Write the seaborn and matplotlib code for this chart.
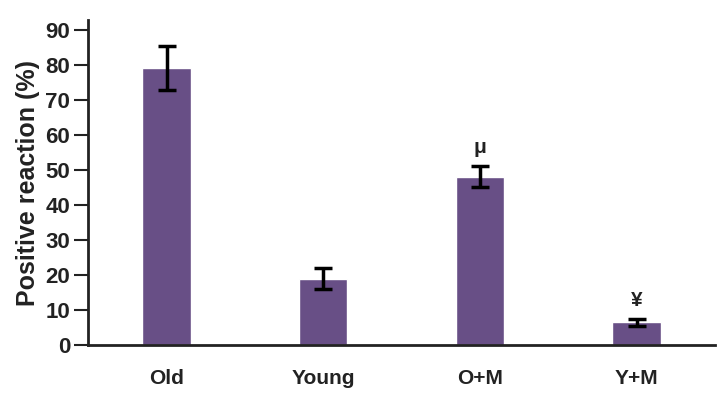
import pandas as pd
import seaborn as sns
import matplotlib.pyplot as plt

groups = ["Old", "Young", "O+M", "Y+M"]
values = [79.3, 19.0, 48.2, 6.5]
errors = [6.3, 2.9, 3.1, 1.0]
marks = ["", "", "μ", "¥"]

df = pd.DataFrame({"group": groups, "value": values})

sns.set_style("ticks")
plt.rcParams["font.family"] = ["Liberation Sans", "DejaVu Sans"]
plt.rcParams["font.weight"] = "bold"

fig = plt.figure(figsize=(7.17, 4.0), dpi=100)
ax = fig.add_axes([0.123, 0.1375, 0.874, 0.8125])

sns.barplot(data=df, x="group", y="value", color="#684f86", saturation=1,
            width=0.31, ax=ax)
ax.errorbar(range(len(groups)), values, yerr=errors, fmt="none", ecolor="black",
            elinewidth=2.5, capsize=6.5, capthick=2.5)

# significance marks over the bars
for i, (v, e, m) in enumerate(zip(values, errors, marks)):
    if m:
        ax.text(i, v + e + 2.5, m, ha="center", va="bottom", fontsize=15, fontweight="bold",
                color="#222222")

ax.set_xlim(-0.5, 3.5)
ax.set_ylim(0, 93)
ax.set_yticks(range(0, 91, 10))
ax.set_xlabel("")
ax.set_ylabel("Positive reaction (%)", fontsize=18, fontweight="bold", color="#222222", labelpad=4)
ax.tick_params(axis="y", length=10, width=1.5, labelsize=16, pad=3, colors="#222222")
ax.tick_params(axis="x", length=0, labelsize=15, pad=17, colors="#222222")
for lbl in ax.get_xticklabels() + ax.get_yticklabels():
    lbl.set_fontweight("bold")

sns.despine(ax=ax)
ax.spines["left"].set_linewidth(2)
ax.spines["bottom"].set_linewidth(2)
ax.spines["left"].set_color("#222222")
ax.spines["bottom"].set_color("#222222")

fig.savefig("out.png", dpi=100)
